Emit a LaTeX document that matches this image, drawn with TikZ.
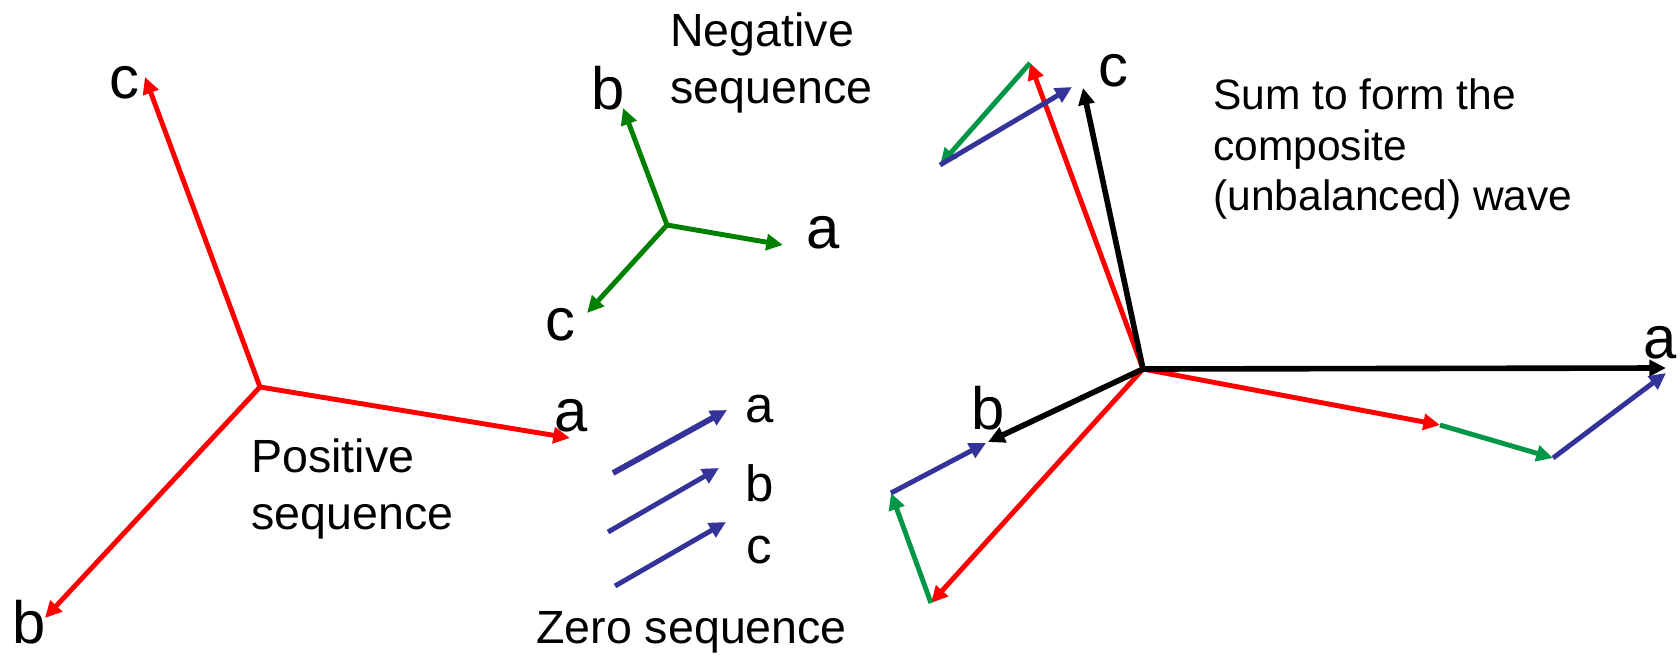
\documentclass[tikz,border=0pt]{standalone}
\usepackage{fontspec}
\setmainfont{Liberation Sans}
\usetikzlibrary{arrows.meta}
\definecolor{posred}{RGB}{255,0,0}
\definecolor{neggreen}{RGB}{0,128,0}
\definecolor{sumgreen}{RGB}{0,150,72}
\definecolor{zeroblue}{RGB}{51,51,153}

\begin{document}
\begin{tikzpicture}[x=0.02cm,y=-0.02cm,
    vec/.style={line width=2.8pt,-{Triangle[length=9.5pt,width=9pt]}},
    letter/.style={font=\fontsize{34}{40}\selectfont,inner sep=0pt},
    small/.style={font=\fontsize{29}{34}\selectfont,inner sep=0pt},
    txt/.style={font=\fontsize{26.5}{32}\selectfont,align=left,inner sep=0pt,anchor=west}]
    \useasboundingbox (0,0) rectangle (1680,656);

    % Positive sequence
    \coordinate (p0) at (260,387);
    \coordinate (pa) at (570,438);
    \coordinate (pb) at (45,618);
    \coordinate (pc) at (145,77);
    \draw[vec,posred] (p0) -- (pa);
    \draw[vec,posred] (p0) -- (pb);
    \draw[vec,posred] (p0) -- (pc);
    \node[letter] (pal) at (571,416) {a};
    \node[letter] (pbl) at (29,622) {b};
    \node[letter] (pcl) at (124,83) {c};
    \node[txt] (postxt) at (251,489) {Positive\\sequence};

    % Negative sequence
    \coordinate (n0) at (667,225);
    \coordinate (na) at (783,245);
    \coordinate (nb) at (623,108);
    \coordinate (nc) at (587,313);
    \draw[vec,neggreen] (n0) -- (na);
    \draw[vec,neggreen] (n0) -- (nb);
    \draw[vec,neggreen] (n0) -- (nc);
    \node[letter] (nal) at (823,233) {a};
    \node[letter] (nbl) at (608,88) {b};
    \node[letter] (ncl) at (560,325) {c};
    \node[txt] (negtxt) at (670,63) {Negative\\sequence};

    % Zero sequence
    \coordinate (za0) at (613,473);
    \coordinate (za) at (727,410);
    \coordinate (zb0) at (608,532);
    \coordinate (zb) at (719,468);
    \coordinate (zc0) at (615,586);
    \coordinate (zc) at (726,522);
    \draw[vec,zeroblue,line width=3.3pt] (za0) -- (za);
    \draw[vec,zeroblue] (zb0) -- (zb);
    \draw[vec,zeroblue] (zc0) -- (zc);
    \node[small] (zal) at (760,409) {a};
    \node[small] (zbl) at (760,483) {b};
    \node[small] (zcl) at (759,550) {c};
    \node[txt] (zerotxt) at (536,632) {Zero sequence};

    % Sum of the three sets
    \coordinate (s0) at (1143,369);
    \coordinate (sa1) at (1440,425);
    \coordinate (sb1) at (931,603);
    \coordinate (sc1) at (1030,63);
    \coordinate (sa2) at (1553,458);
    \coordinate (sb2) at (891,493);
    \coordinate (sc2) at (940,165);
    \coordinate (sa3) at (1666,373);
    \coordinate (sb3) at (986,443);
    \coordinate (sc3) at (1072,87);
    \coordinate (sa) at (1666,368);
    \coordinate (sb) at (988,442);
    \coordinate (sc) at (1083,88);
    \draw[vec,posred] (s0) -- (sa1);
    \draw[vec,posred] (s0) -- (sb1);
    \draw[vec,posred] (s0) -- (sc1);
    \draw[vec,sumgreen] (sa1) -- (sa2);
    \draw[vec,sumgreen] (sb1) -- (sb2);
    \draw[vec,sumgreen] (sc1) -- (sc2);
    \draw[vec,zeroblue] (sa2) -- (sa3);
    \draw[vec,zeroblue] (sb2) -- (sb3);
    \draw[vec,zeroblue] (sc2) -- (sc3);
    \draw[vec,black,line width=3.2pt] (s0) -- (sa);
    \draw[vec,black,line width=3.2pt] (s0) -- (sb);
    \draw[vec,black,line width=3.2pt] (s0) -- (sc);
    \node[letter] (sal) at (1660,343) {a};
    \node[letter] (sbl) at (988,408) {b};
    \node[letter] (scl) at (1113,71) {c};
    \node[txt,font=\fontsize{24.2}{28.5}\selectfont] (sumtxt) at (1213,149) {Sum to form the\\composite\\(unbalanced) wave};
\end{tikzpicture}
\end{document}
